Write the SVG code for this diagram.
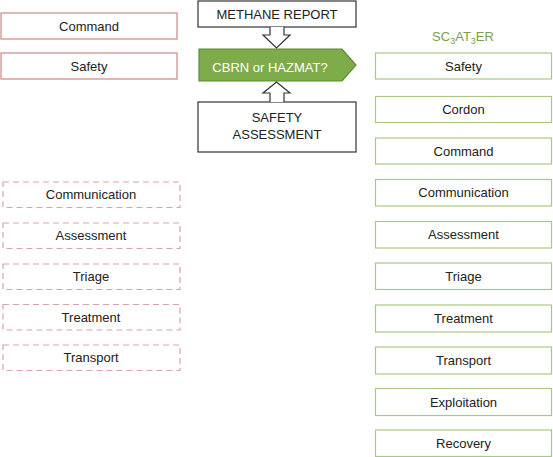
<svg xmlns="http://www.w3.org/2000/svg" width="553" height="457" viewBox="0 0 553 457">
<style>
text{font-family:"Liberation Sans",Arial,sans-serif;font-size:13px;fill:#222;text-anchor:middle}
.red rect{fill:#fff;stroke:#d08585;stroke-width:1.2}
.dash rect{fill:#fff;stroke:#d9a3a8;stroke-width:1.2;stroke-dasharray:6 4}
.grn rect{fill:#fff;stroke:#a9c883;stroke-width:1.2}
.blk{fill:#fff;stroke:#333;stroke-width:1.2}
.arr{fill:#fff;stroke:#333;stroke-width:1.2;stroke-linejoin:miter}
</style>
<rect width="553" height="457" fill="#fff"/>
<!-- left solid -->
<g id="l-command" class="red"><rect x="1" y="13" width="176" height="26"/><text x="89" y="30.5">Command</text></g>
<g id="l-safety" class="red"><rect x="1" y="53" width="176" height="26"/><text x="89" y="70.5">Safety</text></g>
<!-- left dashed -->
<g id="l-communication" class="dash"><rect x="3" y="182" width="177" height="25.5"/><text x="91" y="199">Communication</text></g>
<g id="l-assessment" class="dash"><rect x="3" y="223" width="177" height="25.5"/><text x="91" y="240">Assessment</text></g>
<g id="l-triage" class="dash"><rect x="3" y="264" width="177" height="25.5"/><text x="91" y="281">Triage</text></g>
<g id="l-treatment" class="dash"><rect x="3" y="304.5" width="177" height="25.5"/><text x="91" y="321.5">Treatment</text></g>
<g id="l-transport" class="dash"><rect x="3" y="345" width="177" height="25.5"/><text x="91" y="362">Transport</text></g>
<!-- centre -->
<g id="methane"><rect class="blk" x="198" y="1" width="158" height="26"/><text x="277" y="18.5">METHANE REPORT</text></g>
<g id="cbrn"><path d="M199,49 H342 L356,65 L342,81 H199 Z" fill="#7eac4a" stroke="#5e8a35" stroke-width="1.2"/><text x="270" y="72" style="fill:#fff">CBRN or HAZMAT?</text></g>
<g id="safety-assessment"><rect class="blk" x="198" y="102" width="158" height="50"/><text x="277" y="122">SAFETY</text><text x="277" y="139">ASSESSMENT</text></g>
<g id="connectors">
<path class="arr" d="M270,27 V35 H263 L276.5,48 L290,35 H284 V27"/>
<path class="arr" d="M270,102 V93 H263 L276.5,82 L290,93 H284 V102"/>
</g>
<!-- right -->
<text x="463" y="41" style="fill:#7a9f4a">SC<tspan font-size="9" dy="3">3</tspan><tspan dy="-3">AT</tspan><tspan font-size="9" dy="3">3</tspan><tspan dy="-3">ER</tspan></text>
<g id="r-safety" class="grn"><rect x="375.5" y="53" width="176" height="26"/><text x="463.5" y="70.5">Safety</text></g>
<g id="r-cordon" class="grn"><rect x="375.5" y="96.5" width="176" height="26"/><text x="463.5" y="114">Cordon</text></g>
<g id="r-command" class="grn"><rect x="375.5" y="138" width="176" height="26"/><text x="463.5" y="155.5">Command</text></g>
<g id="r-communication" class="grn"><rect x="375.5" y="179.5" width="176" height="26.5"/><text x="463.5" y="197">Communication</text></g>
<g id="r-assessment" class="grn"><rect x="375.5" y="221.5" width="176" height="26.5"/><text x="463.5" y="239">Assessment</text></g>
<g id="r-triage" class="grn"><rect x="375.5" y="263" width="176" height="26.5"/><text x="463.5" y="280.5">Triage</text></g>
<g id="r-treatment" class="grn"><rect x="375.5" y="305" width="176" height="27"/><text x="463.5" y="323">Treatment</text></g>
<g id="r-transport" class="grn"><rect x="375.5" y="347" width="176" height="27"/><text x="463.5" y="365">Transport</text></g>
<g id="r-exploitation" class="grn"><rect x="375.5" y="388.5" width="176" height="27"/><text x="463.5" y="406.5">Exploitation</text></g>
<g id="r-recovery" class="grn"><rect x="375.5" y="430" width="176" height="26.5"/><text x="463.5" y="448">Recovery</text></g>
</svg>
